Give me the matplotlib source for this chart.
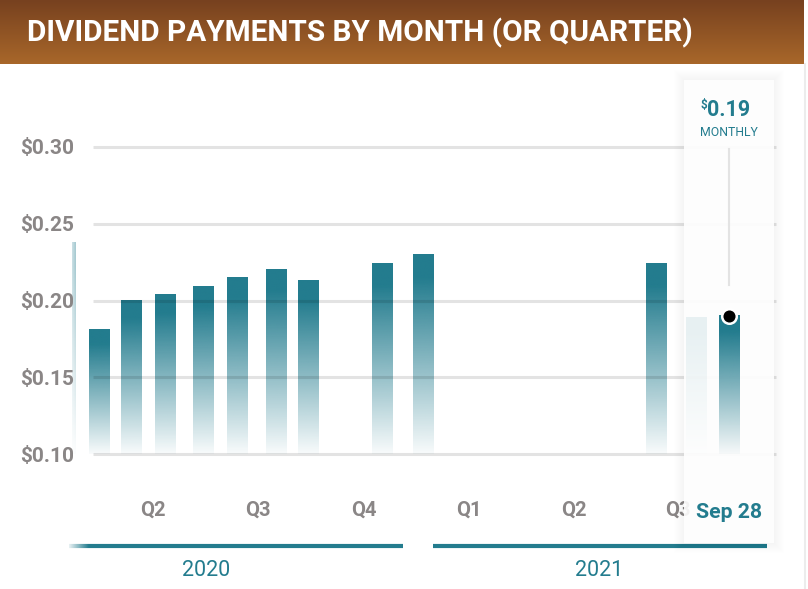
import datetime as dt
import numpy as np
import matplotlib
matplotlib.use("Agg")
import matplotlib.pyplot as plt
import matplotlib.dates as mdates
import matplotlib.transforms as mtrans
from matplotlib.patches import Rectangle
from matplotlib.colors import to_rgb

# ---------------- data ----------------
pay_dates = ["2020-03-01", "2020-03-30", "2020-04-27", "2020-05-27", "2020-06-29",
             "2020-07-28", "2020-08-31", "2020-09-28", "2020-12-01", "2021-01-06",
             "2021-07-27", "2021-08-31", "2021-09-28"]
amounts = [0.238, 0.181, 0.200, 0.204, 0.209, 0.215, 0.220, 0.213, 0.224, 0.230,
           0.224, 0.189, 0.190]
y_ticks = [0.10, 0.15, 0.20, 0.25, 0.30]
y_tick_labels = ["$0.10", "$0.15", "$0.20", "$0.25", "$0.30"]
quarter_labels = ["Q2", "Q3", "Q4", "Q1", "Q2", "Q3"]
quarter_centers = ["2020-05-16", "2020-08-15", "2020-11-15",
                   "2021-02-14", "2021-05-16", "2021-08-15"]
year_labels = ["2020", "2021"]
year_label_pos = ["2020-07-01", "2021-06-07"]
title = "DIVIDEND PAYMENTS BY MONTH (OR QUARTER)"
frequency = "MONTHLY"
selected = 12

# ---------------- style ----------------
TEAL = "#237c8e"
GRAY = "#8a8686"
FONT = "Roboto"
W, H = 808, 589


def fx(p):
    return p / W


def fy(p):
    return 1 - p / H


dates = [mdates.date2num(dt.datetime.strptime(d, "%Y-%m-%d")) for d in pay_dates]

fig = plt.figure(figsize=(W / 100, H / 100), dpi=100)
fig.patch.set_facecolor("white")

# ---------------- header ----------------
hax = fig.add_axes([0, fy(64), fx(804), 64 / H])
top_c = np.array(to_rgb("#77411f"))
bot_c = np.array(to_rgb("#a8672a"))
tt = np.linspace(0, 1, 64)[:, None, None]
grad = top_c[None, None, :] * (1 - tt) + bot_c[None, None, :] * tt
hax.imshow(grad, aspect="auto", extent=[0, 1, 0, 1], interpolation="bilinear")
hax.set_axis_off()
ttl = fig.text(fx(27), fy(33), title, color="white", fontsize=21, fontweight="bold",
               family=FONT, ha="left", va="center")

# ---------------- main axes ----------------
AX_L, AX_R, AX_T, AX_B = 72, 776, 147, 454
ax = fig.add_axes([fx(AX_L), fy(AX_B), fx(AX_R) - fx(AX_L), (AX_B - AX_T) / H])
px_per_day = 1.152
x_left = mdates.date2num(dt.datetime(2020, 3, 6, 16))
x_right = x_left + (AX_R - AX_L) / px_per_day
bar_w = 20.7 / px_per_day
y_lo, y_hi = y_ticks[0], y_ticks[-1]


def ydata(p):
    return y_lo + (AX_B - p) / (AX_B - AX_T) * (y_hi - y_lo)


for s in ax.spines.values():
    s.set_visible(False)
ax.set_facecolor("none")

# gridlines (semi-transparent, above bars)
for yv in y_ticks:
    ax.axhline(yv, xmin=(93 - AX_L) / (AX_R - AX_L), xmax=1.0, color=(0, 0, 0, 0.11),
               lw=2.2, zorder=3, clip_on=False, solid_capstyle="butt")

# gradient for bars
n = 256
t = np.linspace(0, 1, n)
alpha = np.where(t < 0.12, 1.0, 1.0 - (t - 0.12) / 0.88 * 0.97)
rgba = np.zeros((n, 1, 4))
rgba[..., :3] = to_rgb(TEAL)
rgba[..., 3] = alpha[:, None]

bars = ax.bar(dates, [a - y_lo for a in amounts], bottom=y_lo, width=bar_w,
              facecolor="none", edgecolor="none", linewidth=0)
for i, b in enumerate(bars):
    z = 7 if i == selected else 2
    ax.imshow(rgba, extent=[b.get_x(), b.get_x() + b.get_width(), b.get_y(),
                            b.get_y() + b.get_height()],
              aspect="auto", origin="upper", interpolation="bilinear", zorder=z)
    b.set_zorder(z)

# left-edge fade (inside ax so tick labels stay above)
fade = np.ones((1, 64, 4))
fade[..., 3] = np.linspace(0.95, 0.0, 64)
ax.imshow(fade, extent=[x_left - 4 / px_per_day, x_left + 17 / px_per_day,
                        ydata(552), ydata(230)],
          aspect="auto", interpolation="bilinear", zorder=5, clip_on=False)

# y tick labels
ax.set_xticks([])
ax.set_yticks(y_ticks)
ax.set_yticklabels(y_tick_labels, fontsize=15, fontweight="bold", color=GRAY, family=FONT)
ax.tick_params(axis="y", length=0, pad=-1.5)
ax.yaxis.set_zorder(10)

# quarter labels
xtrans = ax.get_xaxis_transform()
for lab, c in zip(quarter_labels, quarter_centers):
    cx = mdates.date2num(dt.datetime.strptime(c, "%Y-%m-%d"))
    ax.text(cx, (AX_B - 510) / (AX_B - AX_T), lab, transform=xtrans, ha="center",
            va="center", fontsize=14.5, fontweight="bold", color=GRAY, family=FONT,
            zorder=4, clip_on=False)

# year bands
y_band = (AX_B - 546) / (AX_B - AX_T)
pad_days = 13
year_starts = [mdates.date2num(dt.datetime(int(y), 1, 1)) for y in year_labels]
year_ends = [mdates.date2num(dt.datetime(int(y) + 1, 1, 1)) for y in year_labels]
for k, lab in enumerate(year_labels):
    a = year_starts[k] + pad_days if year_starts[k] > x_left else x_left - 3 / px_per_day
    bnd = year_ends[k] - pad_days if year_ends[k] < x_right else x_right - 9 / px_per_day
    ax.plot([a, bnd], [y_band, y_band], transform=xtrans, color=TEAL, lw=3.0,
            solid_capstyle="butt", clip_on=False, zorder=4)
    lx = mdates.date2num(dt.datetime.strptime(year_label_pos[k], "%Y-%m-%d"))
    ax.text(lx, (AX_B - 571) / (AX_B - AX_T), lab, transform=xtrans, ha="center",
            va="center", fontsize=15.5, color=TEAL, family=FONT, zorder=4)

# ---------------- tooltip ----------------
sx = dates[selected]
half_w = 45 / px_per_day
ytrans = mtrans.blended_transform_factory(ax.transData, fig.transFigure)
TT_TOP, TT_BOT = 80, 543
for k in range(10):
    e = k + 1
    ax.add_patch(Rectangle((sx - half_w - e / px_per_day, fy(TT_BOT + e)),
                           2 * (half_w + e / px_per_day),
                           (TT_BOT - TT_TOP + 2 * e) / H, transform=ytrans,
                           facecolor=(0, 0, 0, 0.0035), edgecolor="none", zorder=5,
                           clip_on=False))
ax.add_patch(Rectangle((sx - half_w, fy(TT_BOT)), 2 * half_w, (TT_BOT - TT_TOP) / H,
                       transform=ytrans, facecolor=(1, 1, 1, 0.9), edgecolor="none",
                       zorder=6, clip_on=False))
ax.plot([sx, sx], [fy(149), fy(285)], transform=ytrans, color="#e3e3e3", lw=1.5,
        zorder=6.5, clip_on=False)
val_txt = ax.text(sx, fy(110), f"{amounts[selected]:.2f}", transform=ytrans,
                  ha="center", va="center", fontsize=15.5, fontweight="bold",
                  color=TEAL, family=FONT, zorder=8)
ax.annotate("$", xy=(0, 1.02), xycoords=val_txt, ha="right", va="top",
            fontsize=8.5, fontweight="bold", color=TEAL, family=FONT, zorder=8,
            annotation_clip=False)
ax.text(sx, fy(133), frequency, transform=ytrans, ha="center", va="center",
        fontsize=8.8, color=TEAL, family=FONT, zorder=8)
sel_date = dt.datetime.strptime(pay_dates[selected], "%Y-%m-%d")
ax.text(sx, fy(512), sel_date.strftime("%b %d"), transform=ytrans, ha="center",
        va="center", fontsize=15.3, fontweight="bold", color=TEAL, family=FONT,
        zorder=8)
ax.scatter([sx], [amounts[selected]], s=110, color="black", edgecolor="white",
           linewidth=1.8, zorder=9, clip_on=False)

ax.set_xlim(x_left, x_right)
ax.set_ylim(y_lo, y_hi)

# right edge line
fig.add_artist(plt.Line2D([fx(805), fx(805)], [0, fy(64)], color="#ececec", lw=1.5))

# fit title width
fig.canvas.draw()
bb = ttl.get_window_extent()
ttl.set_fontsize(21 * (693 - 27) / bb.width)

fig.savefig("out.png", dpi=100)
